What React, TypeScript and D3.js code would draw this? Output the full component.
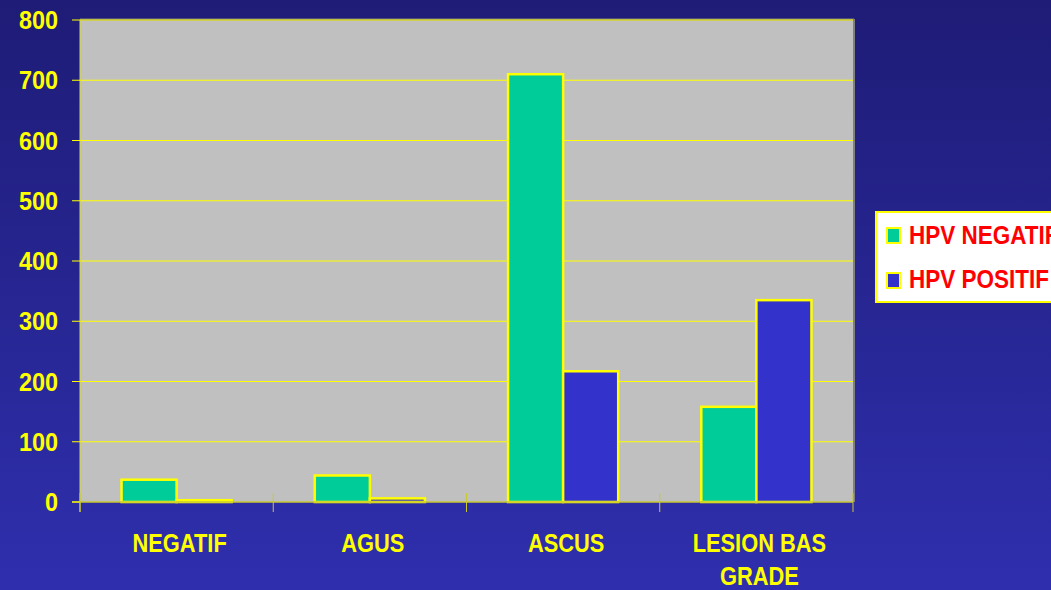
import React from "react";
import * as d3 from "d3";

const categories: string[][] = [["NEGATIF"], ["AGUS"], ["ASCUS"], ["LESION BAS", "GRADE"]];
const seriesNames = ["HPV NEGATIF", "HPV POSITIF"];
const hpvNegatif = [37, 44, 710, 158];
const hpvPositif = [3, 6, 217, 335];
const yTicks = [0, 100, 200, 300, 400, 500, 600, 700, 800];
const seriesColors = ["#00cc99", "#3333cc"];

const W = 1051, H = 590;
const plot = { left: 80, right: 853, top: 20, bottom: 502 };

export default function App() {
  const y = d3.scaleLinear().domain([0, 800]).range([plot.bottom, plot.top]);
  const x = d3.scaleBand<number>().domain(d3.range(categories.length)).range([plot.left, plot.right]).padding(0);
  const groupW = x.bandwidth() * 0.57;
  const inner = d3.scaleBand<number>().domain([0, 1]).range([0, groupW]).padding(0);
  const series = [hpvNegatif, hpvPositif];
  const yellow = "#ffff00";
  const font = "'Liberation Sans', Arial, sans-serif";

  return (
    <svg width={W} height={H} style={{ position: "absolute", left: 0, top: 0, display: "block" }}>
      <defs>
        <linearGradient id="bg" x1="0" y1="0" x2="0" y2="1">
          <stop offset="0" stopColor="#1e1c76" />
          <stop offset="1" stopColor="#2f2fae" />
        </linearGradient>
      </defs>
      <rect x={0} y={0} width={W} height={H} fill="url(#bg)" />
      {/* plot area */}
      <rect x={plot.left} y={plot.top} width={plot.right - plot.left} height={plot.bottom - plot.top} fill="#c0c0c0" />
      <line x1={plot.left} x2={plot.right + 1} y1={plot.top - 0.5} y2={plot.top - 0.5} stroke="#808080" strokeWidth={2} />
      <line x1={plot.right + 1} x2={plot.right + 1} y1={plot.top - 1} y2={plot.bottom} stroke="#808080" strokeWidth={2} />
      {/* gridlines */}
      {yTicks.filter((t) => t > 0).map((t) => (
        <line key={t} x1={plot.left} x2={plot.right} y1={y(t)} y2={y(t)} stroke={yellow} strokeWidth={1} />
      ))}
      {/* bars */}
      {series.map((vals, si) =>
        vals.map((v, ci) => {
          const bx = (x(ci) as number) + (x.bandwidth() - groupW) / 2 + (inner(si) as number);
          return (
            <rect key={`${si}-${ci}`} x={bx} y={y(v)} width={inner.bandwidth()} height={plot.bottom - y(v)}
              fill={seriesColors[si]} stroke={yellow} strokeWidth={2.5} />
          );
        })
      )}
      {/* axes */}
      <line x1={plot.left} x2={plot.left} y1={plot.top} y2={512} stroke="#d8d820" strokeWidth={1} />
      <line x1={plot.left - 8} x2={plot.right} y1={plot.bottom} y2={plot.bottom} stroke="#c8c830" strokeWidth={1.5} />
      {yTicks.map((t) => (
        <g key={t}>
          <line x1={plot.left - 8} x2={plot.left} y1={y(t)} y2={y(t)} stroke={yellow} strokeWidth={1} />
          <text transform={`translate(58,${y(t) + 9}) scale(0.9,1)`} textAnchor="end" fill={yellow}
            fontFamily={font} fontWeight="bold" fontSize={26}>
            {t}
          </text>
        </g>
      ))}
      {d3.range(categories.length + 1).map((i) => {
        const xx = plot.left + i * x.bandwidth();
        return <line key={i} x1={xx} x2={xx} y1={493} y2={512} stroke="#c8c830" strokeWidth={1} />;
      })}
      {categories.map((lines, ci) => (
        <g key={ci} transform={`translate(${(x(ci) as number) + x.bandwidth() / 2 + 3},552) scale(0.84,1)`}>
          {lines.map((l, li) => (
            <text key={li} x={0} y={li * 33} textAnchor="middle" fill={yellow}
              fontFamily={font} fontWeight="bold" fontSize={26}>{l}</text>
          ))}
        </g>
      ))}
      {/* legend */}
      <rect x={876} y={212} width={200} height={90} fill="#ffffff" stroke={yellow} strokeWidth={2} />
      {seriesNames.map((n, i) => (
        <g key={n}>
          <rect x={887} y={228 + i * 45} width={13} height={15} fill={seriesColors[i]} stroke={yellow} strokeWidth={2} />
          <text transform={`translate(909,${244 + i * 44}) scale(0.9,1)`} fill="#ff0000" fontFamily={font}
            fontWeight="bold" fontSize={25}>{n}</text>
        </g>
      ))}
    </svg>
  );
}
